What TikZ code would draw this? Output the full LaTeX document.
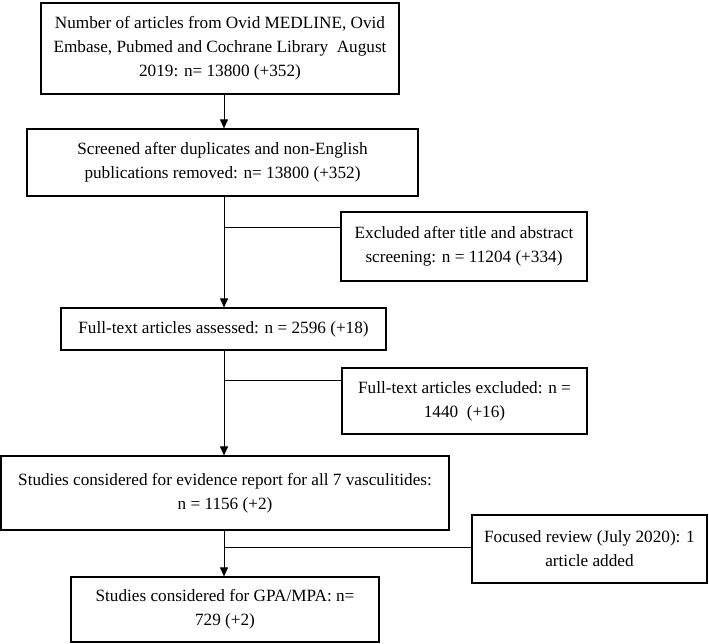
\documentclass[tikz,border=0pt]{standalone}
\usepackage{fontspec}
\setmainfont{Liberation Serif}
\usetikzlibrary{arrows.meta}

\begin{document}
\begin{tikzpicture}[x=1pt,y=-1pt,line width=1pt]
      \useasboundingbox (0,0) rectangle (709,643);

      \begin{scope}[every node/.style={draw,line width=1.2pt,align=center,inner sep=0pt,
          font=\fontsize{17.2}{24}\selectfont}]
        \node[minimum width=358pt,minimum height=91pt] (1) at (220,48.5)
          {Number of articles from Ovid MEDLINE, Ovid\\Embase, Pubmed and Cochrane Library\ \ August\\2019: n= 13800 (+352)};
        \node[minimum width=391pt,minimum height=67pt] (2) at (222.5,162.5)
          {Screened after duplicates and non-English\\publications removed: n= 13800 (+352)};
        \node[minimum width=246pt,minimum height=69pt] (3) at (464,246.5)
          {Excluded after title and abstract\\screening: n = 11204 (+334)};
        \node[minimum width=325pt,minimum height=42pt] (4) at (223.5,329)
          {Full-text articles assessed: n = 2596 (+18)};
        \node[minimum width=245pt,minimum height=66pt] (5) at (464.5,401)
          {Full-text articles excluded: n =\\1440\ \ (+16)};
        \node[minimum width=448pt,minimum height=74pt] (6) at (225,493)
          {Studies considered for evidence report for all 7 vasculitides:\\n = 1156 (+2)};
        \node[minimum width=235pt,minimum height=68pt] (7) at (589.5,549)
          {Focused review (July 2020): 1\\article added};
        \node[minimum width=308pt,minimum height=65pt] (8) at (225,609.5)
          {Studies considered for GPA/MPA: n=\\729 (+2)};
      \end{scope}

      \coordinate (t)  at (224,0);
      \coordinate (j1) at (224,227);
      \coordinate (j2) at (224,380);
      \coordinate (j3) at (224,547);

      \begin{scope}[every edge/.style={draw,-{Triangle[width=8pt,length=9pt]}}]
        \path (1.south -| t) edge (2.north -| t);
        \path (2.south -| t) edge (4.north -| t);
        \path (4.south -| t) edge (6.north -| t);
        \path (6.south -| t) edge (8.north -| t);
      \end{scope}

      \draw (j1) -- (j1 -| 3.west);
      \draw (j2) -- (j2 -| 5.west);
      \draw (j3) -- (j3 -| 7.west);

    \end{tikzpicture}
\end{document}
